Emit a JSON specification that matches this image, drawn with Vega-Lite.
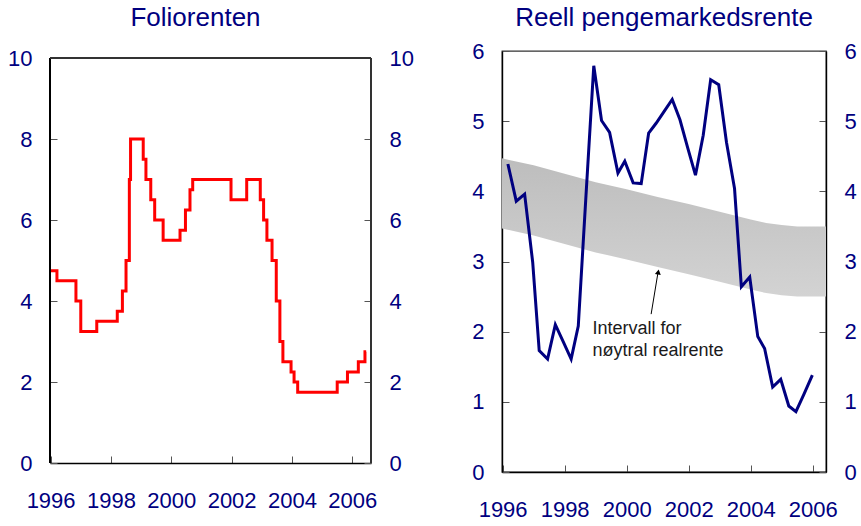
{
  "$schema": "https://vega.github.io/schema/vega-lite/v6.json",
  "background": "white",
  "padding": {"left": 7, "top": 4, "right": 0, "bottom": 0},
  "spacing": 57,
  "config": {
    "font": "Liberation Sans",
    "view": {"stroke": "#333333", "strokeWidth": 1.3},
    "axis": {
      "grid": false,
      "title": null,
      "labelFont": "Liberation Sans",
      "labelFontSize": 22,
      "labelColor": "#000080",
      "domainColor": "#000000",
      "domainWidth": 1.4,
      "tickColor": "#555555",
      "tickSize": -7,
      "tickWidth": 1,
      "labelPadding": 25,
      "labelOverlap": false,
      "labelFlush": false
    },
    "axisX": {"labelPadding": 34},
    "title": {
      "font": "Liberation Sans",
      "fontSize": 26,
      "fontWeight": "normal",
      "color": "#000080",
      "anchor": "middle"
    }
  },
  "datasets": {
    "folio": [
      {"d": 1995.98, "v": 4.75},
      {"d": 1996.21, "v": 4.5},
      {"d": 1996.84, "v": 4.0},
      {"d": 1997.0, "v": 3.25},
      {"d": 1997.53, "v": 3.5},
      {"d": 1998.21, "v": 3.75},
      {"d": 1998.38, "v": 4.25},
      {"d": 1998.5, "v": 5.0},
      {"d": 1998.61, "v": 7.0},
      {"d": 1998.65, "v": 8.0},
      {"d": 1999.07, "v": 7.5},
      {"d": 1999.16, "v": 7.0},
      {"d": 1999.32, "v": 6.5},
      {"d": 1999.45, "v": 6.0},
      {"d": 1999.73, "v": 5.5},
      {"d": 2000.29, "v": 5.75},
      {"d": 2000.47, "v": 6.25},
      {"d": 2000.62, "v": 6.75},
      {"d": 2000.71, "v": 7.0},
      {"d": 2001.98, "v": 6.5},
      {"d": 2002.5, "v": 7.0},
      {"d": 2002.95, "v": 6.5},
      {"d": 2003.06, "v": 6.0},
      {"d": 2003.17, "v": 5.5},
      {"d": 2003.34, "v": 5.0},
      {"d": 2003.48, "v": 4.0},
      {"d": 2003.6, "v": 3.0},
      {"d": 2003.7, "v": 2.5},
      {"d": 2003.97, "v": 2.25},
      {"d": 2004.07, "v": 2.0},
      {"d": 2004.19, "v": 1.75},
      {"d": 2005.5, "v": 2.0},
      {"d": 2005.84, "v": 2.25},
      {"d": 2006.2, "v": 2.5},
      {"d": 2006.42, "v": 2.75},
      {"d": 2006.46, "v": 2.75}
    ],
    "band": [
      {"d": 1995.98, "lo": 3.47, "hi": 4.47},
      {"d": 1997.0, "lo": 3.37, "hi": 4.37},
      {"d": 1998.0, "lo": 3.25, "hi": 4.25},
      {"d": 1999.0, "lo": 3.13, "hi": 4.13},
      {"d": 2000.0, "lo": 3.03, "hi": 4.03},
      {"d": 2001.0, "lo": 2.92, "hi": 3.92},
      {"d": 2002.0, "lo": 2.82, "hi": 3.82},
      {"d": 2003.0, "lo": 2.71, "hi": 3.71},
      {"d": 2004.0, "lo": 2.6, "hi": 3.6},
      {"d": 2004.5, "lo": 2.55, "hi": 3.55},
      {"d": 2005.0, "lo": 2.52, "hi": 3.52},
      {"d": 2005.5, "lo": 2.5, "hi": 3.5},
      {"d": 2006.43, "lo": 2.5, "hi": 3.5}
    ],
    "rente": [
      {"d": 1996.17, "v": 4.39},
      {"d": 1996.44, "v": 3.86},
      {"d": 1996.71, "v": 3.96},
      {"d": 1996.97, "v": 2.99},
      {"d": 1997.18, "v": 1.73},
      {"d": 1997.45, "v": 1.61},
      {"d": 1997.7, "v": 2.1},
      {"d": 1997.95, "v": 1.86},
      {"d": 1998.21, "v": 1.61},
      {"d": 1998.44, "v": 2.08},
      {"d": 1998.69, "v": 3.95},
      {"d": 1998.94, "v": 5.79},
      {"d": 1999.19, "v": 5.01},
      {"d": 1999.45, "v": 4.84},
      {"d": 1999.72, "v": 4.26},
      {"d": 1999.94, "v": 4.43},
      {"d": 2000.21, "v": 4.12},
      {"d": 2000.47, "v": 4.11},
      {"d": 2000.71, "v": 4.83},
      {"d": 2000.95, "v": 4.97},
      {"d": 2001.21, "v": 5.14},
      {"d": 2001.47, "v": 5.31},
      {"d": 2001.72, "v": 5.02},
      {"d": 2001.97, "v": 4.62},
      {"d": 2002.22, "v": 4.23},
      {"d": 2002.47, "v": 4.8},
      {"d": 2002.71, "v": 5.59},
      {"d": 2002.97, "v": 5.52},
      {"d": 2003.22, "v": 4.7},
      {"d": 2003.48, "v": 4.04},
      {"d": 2003.7, "v": 2.64},
      {"d": 2003.97, "v": 2.78},
      {"d": 2004.23, "v": 1.93},
      {"d": 2004.45, "v": 1.76},
      {"d": 2004.71, "v": 1.21},
      {"d": 2004.97, "v": 1.32},
      {"d": 2005.23, "v": 0.94},
      {"d": 2005.46, "v": 0.86},
      {"d": 2005.72, "v": 1.11},
      {"d": 2005.99, "v": 1.38}
    ],
    "arrow": [
      {"d": 2000.79, "v": 2.25, "d2": 2001.01, "v2": 2.84}
    ],
    "tip": [
      {"d": 2001.02, "v": 2.85}
    ],
    "note": [
      {"d": 1998.9, "v": 2.04, "label": "Intervall for"},
      {"d": 1998.9, "v": 1.73, "label": "nøytral realrente"}
    ]
  },
  "hconcat": [
    {
      "width": 321,
      "height": 412,
      "view": {"stroke": null},
      "title": {"text": "Foliorenten", "offset": 16, "dx": -15},
      "data": {"name": "folio"},
      "encoding": {
        "x": {
          "field": "d",
          "type": "quantitative",
          "scale": {"domain": [1995.98, 2006.62], "nice": false, "zero": false},
          "axis": {"values": [1996, 1998, 2000, 2002, 2004, 2006], "format": "d"}
        }
      },
      "layer": [
        {
          "mark": {"type": "line", "interpolate": "step-after", "color": "#ff0000", "strokeWidth": 3},
          "encoding": {
            "y": {
              "field": "v",
              "type": "quantitative",
              "scale": {"domain": [0, 10.173], "nice": false},
              "axis": {"orient": "left", "values": [0, 2, 4, 6, 8, 10], "domain": false}
            }
          }
        },
        {
          "mark": {"type": "line", "interpolate": "step-after", "color": "#ff0000", "strokeWidth": 3, "opacity": 0},
          "encoding": {
            "y": {
              "field": "v",
              "type": "quantitative",
              "axis": {"orient": "right", "values": [0, 2, 4, 6, 8, 10], "domain": false}
            }
          }
        },
        {
          "mark": {"type": "rule", "color": "#000000", "strokeWidth": 1.4},
          "encoding": {
            "x": {"datum": 1995.98, "type": "quantitative"},
            "y": {"datum": 0, "type": "quantitative", "axis": null},
            "y2": {"datum": 10}
          }
        },
        {
          "mark": {"type": "rule", "color": "#333333", "strokeWidth": 1.3},
          "encoding": {
            "x": {"datum": 2006.62, "type": "quantitative"},
            "y": {"datum": 0, "type": "quantitative", "axis": null},
            "y2": {"datum": 10}
          }
        },
        {
          "mark": {"type": "rule", "color": "#333333", "strokeWidth": 1.3},
          "encoding": {
            "x": {"datum": 1995.98, "type": "quantitative"},
            "x2": {"datum": 2006.62},
            "y": {"datum": 10, "type": "quantitative", "axis": null}
          }
        }
      ],
      "resolve": {"axis": {"y": "independent"}}
    },
    {
      "width": 324,
      "height": 421,
      "title": {"text": "Reell pengemarkedsrente", "offset": 9},
      "layer": [
        {
          "data": {"name": "band"},
          "mark": {
            "type": "area",
            "color": {
              "gradient": "linear",
              "x1": 0, "y1": 0, "x2": 0, "y2": 1,
              "stops": [
                {"offset": 0, "color": "#bdbdbd"},
                {"offset": 1, "color": "#d3d3d3"}
              ]
            }
          },
          "encoding": {
            "x": {
              "field": "d",
              "type": "quantitative",
              "scale": {"domain": [1995.98, 2006.43], "nice": false, "zero": false},
              "axis": {"values": [1996, 1998, 2000, 2002, 2004, 2006], "format": "d"}
            },
            "y": {
              "field": "hi",
              "type": "quantitative",
              "scale": {"domain": [0, 6], "nice": false},
              "axis": {"orient": "left", "values": [0, 1, 2, 3, 4, 5, 6]}
            },
            "y2": {"field": "lo"}
          }
        },
        {
          "data": {"name": "rente"},
          "mark": {"type": "line", "color": "#000080", "strokeWidth": 3, "strokeJoin": "miter"},
          "encoding": {
            "x": {"field": "d", "type": "quantitative"},
            "y": {"field": "v", "type": "quantitative", "axis": {"orient": "right", "values": [0, 1, 2, 3, 4, 5, 6]}}
          }
        },
        {
          "data": {"name": "arrow"},
          "mark": {"type": "rule", "color": "#000000", "strokeWidth": 1},
          "encoding": {
            "x": {"field": "d", "type": "quantitative"},
            "y": {"field": "v", "type": "quantitative", "axis": null},
            "x2": {"field": "d2"},
            "y2": {"field": "v2"}
          }
        },
        {
          "data": {"name": "tip"},
          "mark": {"type": "point", "shape": "triangle-up", "filled": true, "color": "#000000", "size": 35, "angle": 10, "opacity": 1},
          "encoding": {
            "x": {"field": "d", "type": "quantitative"},
            "y": {"field": "v", "type": "quantitative", "axis": null}
          }
        },
        {
          "data": {"name": "note"},
          "mark": {"type": "text", "align": "left", "baseline": "middle", "fontSize": 18, "color": "#1a1a1a", "font": "Liberation Sans"},
          "encoding": {
            "x": {"field": "d", "type": "quantitative"},
            "y": {"field": "v", "type": "quantitative", "axis": null},
            "text": {"field": "label"}
          }
        }
      ],
      "resolve": {"axis": {"y": "independent"}}
    }
  ]
}
